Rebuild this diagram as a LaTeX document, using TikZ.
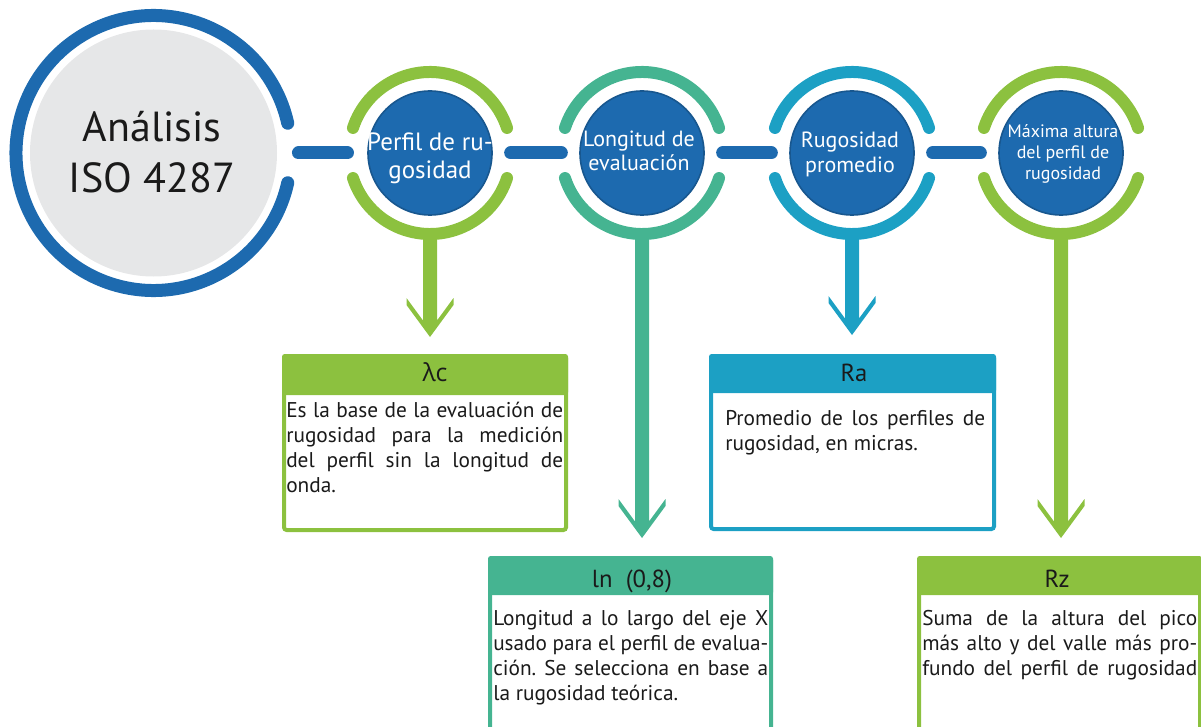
\documentclass[tikz,border=0pt]{standalone}
\usepackage{graphicx}
\usepackage{fontspec}
\setmainfont{PT Sans}
\newfontfamily\grkfont{Open Sans}
\usetikzlibrary{calc}
\definecolor{dblue}{HTML}{1D6AAF}
\definecolor{cgreen}{HTML}{8CC13F}
\definecolor{cteal}{HTML}{45B491}
\definecolor{clblue}{HTML}{1CA0C4}
\definecolor{cgray}{HTML}{E6E7E8}
\definecolor{ctxt}{HTML}{1A1A1A}
\frenchspacing
\newlength\jlw
\newcommand\jline[2]{\settowidth\jlw{#2}\ifdim\jlw>#1\relax\resizebox{#1}{\height}{#2}\else\makebox[#1][s]{#2}\fi}
% arrow: colour, start coordinate (on ring), tip coordinate
\newcommand\downarrowshape[3]{%
  \fill[#1] (#3) -- ++(-23.5,-32) -- ++(0,-7) -- ++(16.5,22.5) coordinate (tmpL)
    -- (tmpL |- #2) -- ++(14,0) -- ($(#3)+(7,-16.5)$) -- ++(16.5,-22.5) -- ++(0,7) -- cycle;}
\begin{document}
\begin{tikzpicture}[x=0.75pt,y=-0.75pt,
  ring/.style={line width=9pt, line cap=round},
  conn/.style={dblue, line width=9.75pt, line cap=round, shorten <=14pt, shorten >=14pt},
  innerc/.style={circle, fill=dblue, draw=dblue!82!black, line width=1.2pt, minimum size=93pt, inner sep=0, outer sep=0},
  ctext/.style={text=white, inner sep=0, anchor=base},
  boxborder/.style={line width=3pt, rounded corners=2pt},
  hdrtxt/.style={text=ctxt, inner sep=0, anchor=base, font=\fontsize{18.5}{21}\selectfont},
  bodytxt/.style={text=ctxt, inner sep=0, anchor=base west, font=\fontsize{16}{18.75}\selectfont}
]
\useasboundingbox (0,0) rectangle (1201,727);
\clip (0,0) rectangle (1201,727);

% ---------- main circle
\node[circle, fill=cgray, minimum size=185.25pt, inner sep=0, outer sep=0] (main) at (153.5,153) {};
\draw[ring, dblue, line width=9.75pt] (main.center) ++(12.5:137.5) arc[start angle=12.5, end angle=347.5, radius=137.5];
\node[text=ctxt, inner sep=0, anchor=base, font=\fontsize{31.5}{38.25}\selectfont] (mtxt) at (152,142)
  {\parbox[t]{180pt}{\centering Análisis\\ISO 4287}};

% ---------- small circles
\node[innerc] (c1) at (430,153) {};
\node[innerc] (c2) at (642,153) {};
\node[innerc] (c3) at (852,153) {};
\node[innerc] (c4) at (1061,153) {};

\coordinate (s1) at ($(c1.center)+(0,81)$);
\coordinate (s2) at ($(c2.center)+(0,81)$);
\coordinate (s3) at ($(c3.center)+(0,81)$);
\coordinate (s4) at ($(c4.center)+(0,81)$);
\coordinate (t1) at (430,337);
\coordinate (t2) at (642,538);
\coordinate (t3) at (852,335);
\coordinate (t4) at (1061,538);

\downarrowshape{cgreen}{s1}{t1}
\downarrowshape{cteal}{s2}{t2}
\downarrowshape{clblue}{s3}{t3}
\downarrowshape{cgreen}{s4}{t4}

\foreach \c/\col in {c1/cgreen, c2/cteal, c3/clblue, c4/cgreen}{
  \draw[ring, \col] (\c.center) ++(18:81) arc[start angle=18, end angle=162, radius=81];
  \draw[ring, \col] (\c.center) ++(198:81) arc[start angle=198, end angle=342, radius=81];
}

% connectors
\draw[conn, shorten <=16.1pt, shorten >=15.4pt] (main) -- (c1);
\draw[conn] (c1) -- (c2);
\draw[conn] (c2) -- (c3);
\draw[conn] (c3) -- (c4);

% circle texts
\node[ctext, font=\fontsize{18.75}{21}\selectfont] (l1) at (430,151)
  {\parbox[t]{110pt}{\centering Perfil de ru-\\gosidad}};
\node[ctext, font=\fontsize{16.5}{18}\selectfont] (l2) at (639,147)
  {\parbox[t]{100pt}{\centering Longitud de\\evaluación}};
\node[ctext, font=\fontsize{16.5}{18.75}\selectfont] (l3) at (850,148)
  {\parbox[t]{100pt}{\centering Rugosidad\\promedio}};
\node[ctext, font=\fontsize{13.5}{15.4}\selectfont] (l4) at (1063,138)
  {\parbox[t]{100pt}{\centering Máxima altura\\del perfil de\\rugosidad}};

% ---------- boxes
% lambda c
\fill[cgreen, rounded corners=2pt] (282,354) rectangle (568,395);
\draw[boxborder, cgreen] (284,356) rectangle (566,530);
\node[hdrtxt] (h1) at (435,381) {{\grkfont λc}};
\node[bodytxt] (b1) at (286,417) {\parbox[t]{207.75pt}{%
  \jline{207.75pt}{Es la base de la evaluación de}\\
  \jline{207.75pt}{rugosidad para la medición}\\
  \jline{207.75pt}{del perfil sin la longitud de}\\
  onda.}};

% Ra
\fill[clblue, rounded corners=2pt] (709,354) rectangle (996,393);
\draw[boxborder, clblue] (711,356) rectangle (994,529);
\node[hdrtxt] (h3) at (854,381) {Ra};
\node[bodytxt] (b3) at (725,425) {\parbox[t]{195pt}{%
  \jline{195pt}{Promedio de los perfiles de}\\
  rugosidad, en micras.}};

% ln
\fill[cteal, rounded corners=2pt] (488,556) rectangle (773,595);
\draw[boxborder, cteal] (490,558) rectangle (771,745);
\node[hdrtxt] (h2) at (632,587) {ln\ \ (0,8)};
\node[bodytxt] (b2) at (493,625) {\parbox[t]{206.25pt}{%
  \jline{206.25pt}{Longitud a lo largo del eje X}\\
  \jline{206.25pt}{usado para el perfil de evalua-}\\
  \jline{206.25pt}{ción. Se selecciona en base a}\\
  la rugosidad teórica.}};

% Rz
\fill[cgreen, rounded corners=2pt] (917,556) rectangle (1202,595);
\draw[boxborder, cgreen] (919,558) rectangle (1200,745);
\node[hdrtxt] (h4) at (1057,587) {Rz};
\node[bodytxt] (b4) at (922,625) {\parbox[t]{206.25pt}{%
  \jline{206.25pt}{Suma de la altura del pico}\\
  \jline{206.25pt}{más alto y del valle más pro-}\\
  \jline{206.25pt}{fundo del perfil de rugosidad}}};
\end{tikzpicture}
\end{document}
